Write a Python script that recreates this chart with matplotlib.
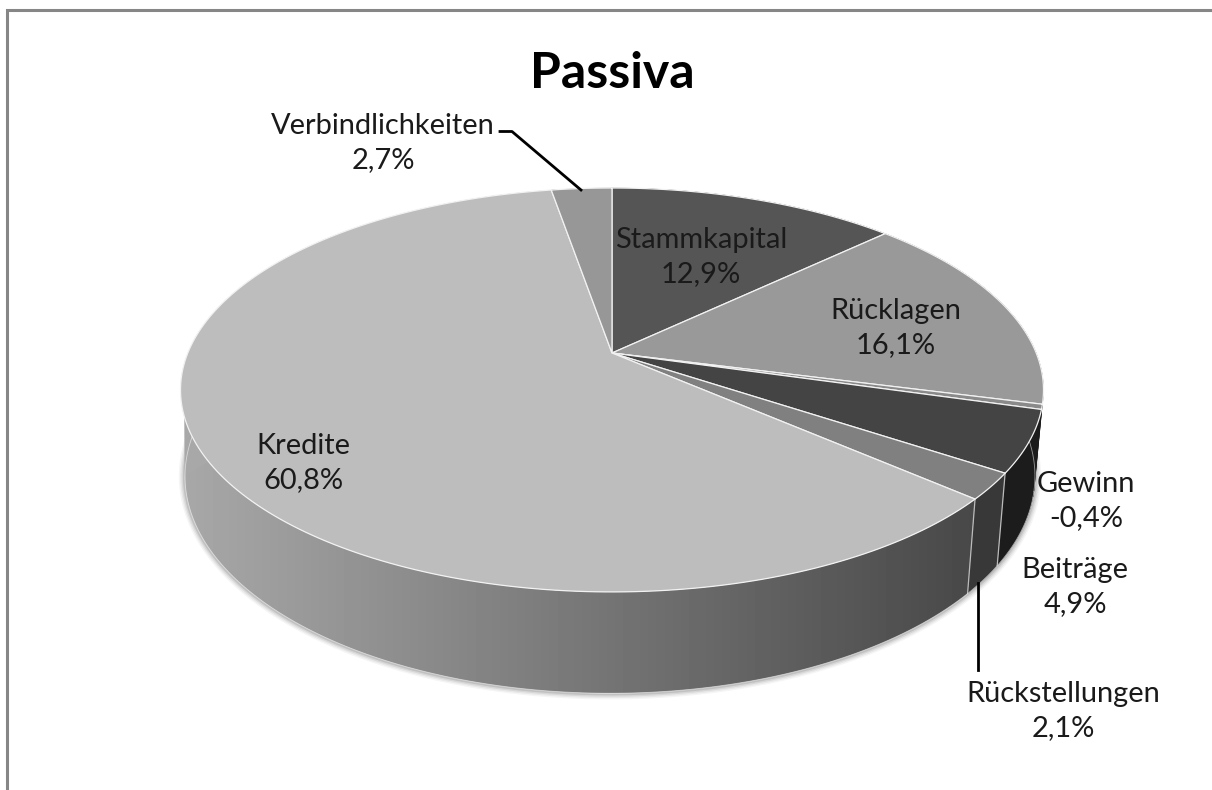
import numpy as np
import matplotlib
matplotlib.use("Agg")
import matplotlib.pyplot as plt
from matplotlib.patches import Polygon

categories = ["Stammkapital", "Rücklagen", "Gewinn", "Beiträge", "Rückstellungen", "Kredite", "Verbindlichkeiten"]
values = [12.9, 16.1, -0.4, 4.9, 2.1, 60.8, 2.7]
top_colors = ["#555555", "#999999", "#8a8a8a", "#444444", "#808080", "#bdbdbd", "#979797"]
wall_colors = ["#1c1c1c", "#1c1c1c", "#1c1c1c", "#1c1c1c", "#383838", None, "#707070"]
wall_divider = [False, False, False, False, True, True, False]
label_pos = [(701, 257), (896, 328), (1086, 501), (1075, 587), (1063, 711), (303, 463), (383, 143)]

W, H = 1212, 790
K = 0.183
TOP = dict(cx=612, cy=353, a=424.2, b=195.2)
BOT = dict(cx=610, cy=436.6, a=417.8, b=209.7)

def proj(t, p):
    x, y = np.sin(t), np.cos(t)
    d = 1 + K * y
    return np.column_stack([p["cx"] + p["a"] * x / d, p["cy"] - p["b"] * y / d])

fig = plt.figure(figsize=(W / 100, H / 100), dpi=100, facecolor="white")
ax = fig.add_axes([0, 0, 1, 1])
ax.set_xlim(0, W)
ax.set_ylim(H, 0)
ax.axis("off")

mag = np.abs(values)
edges = np.concatenate([[0], np.cumsum(mag)]) / mag.sum() * 2 * np.pi

# soft shadow under the base
ring = proj(np.linspace(0, 2 * np.pi, 400), BOT)
for lw, al in [(9, .04), (7, .05), (5, .07), (3, .10)]:
    ax.plot(ring[:, 0], ring[:, 1], color="black", lw=lw, alpha=al, zorder=1)

# side walls
for i, col in enumerate(wall_colors):
    t = np.linspace(edges[i], edges[i + 1], 200)
    pts = np.vstack([proj(t, TOP), proj(t[::-1], BOT)])
    if col is None:
        poly = Polygon(pts, closed=True, fc="none", ec="none", transform=ax.transData)
        ax.add_patch(poly)
        grad = np.linspace(168, 72, 256)[None, :]
        im = ax.imshow(grad, cmap="gray", vmin=0, vmax=255, aspect="auto",
                       extent=(pts[:, 0].min(), pts[:, 0].max(), pts[:, 1].max(), pts[:, 1].min()),
                       zorder=2, interpolation="bilinear")
        im.set_clip_path(poly)
    else:
        ax.add_patch(Polygon(pts, closed=True, fc=col, ec=col, lw=.3, zorder=2))
    if wall_divider[i]:
        a = proj(np.array([edges[i]]), TOP)[0]
        b = proj(np.array([edges[i]]), BOT)[0]
        ax.plot([a[0], b[0]], [a[1], b[1]], color="#bbbbbb", lw=.9, zorder=3)
    e = proj(t, BOT)
    ax.plot(e[:, 0], e[:, 1], color="white", lw=.6, alpha=.55, zorder=3)

# straight silhouette of the wall at both sides, joining the two rims
grid = np.linspace(0, 2 * np.pi, 1440)
top_ring, bot_ring = proj(grid, TOP), proj(grid, BOT)
for side, y_rim, col, inward in [(-1, 417, "#a8a8a8", 40), (1, 413, "#1c1c1c", -40)]:
    on_side = side * (top_ring[:, 0] - TOP["cx"]) > 0
    idx = np.where(on_side)[0]
    rim = top_ring[idx[np.argmin(np.abs(top_ring[idx, 1] - y_rim))]]
    base = bot_ring[np.argmax(side * bot_ring[:, 0])]
    ax.add_patch(Polygon([rim, base, (rim[0] + inward, base[1] - 25)], closed=True,
                         fc=col, ec=col, lw=.3, zorder=2))

# top face
for i, col in enumerate(top_colors):
    t = np.linspace(edges[i], edges[i + 1], 200)
    pts = np.vstack([[TOP["cx"], TOP["cy"]], proj(t, TOP)])
    ax.add_patch(Polygon(pts, closed=True, fc=col, ec="#f2f2f2", lw=.9, joinstyle="round", zorder=4))

# labels
for name, v, (x, y) in zip(categories, values, label_pos):
    s = f"{name}\n{v:.1f}%".replace(".", ",")
    ax.text(x, y, s, ha="center", va="center", family="Lato", fontsize=20.9,
            color="#1a1a1a", linespacing=1.35, zorder=6)

ax.text(612, 74, "Passiva", ha="center", va="center", family="Lato", fontweight="bold",
        fontsize=36, color="black", zorder=6)

# leader lines
ax.plot([500, 512, 581], [131.5, 131.5, 190], color="black", lw=2, zorder=5)
ax.plot([978, 978], [583, 670], color="black", lw=2, zorder=5)

# frame
ax.plot([7, 7, W], [H, 10, 10], color="#868686", lw=2.2, zorder=0, solid_joinstyle="miter")

fig.savefig("out.png", dpi=100)
